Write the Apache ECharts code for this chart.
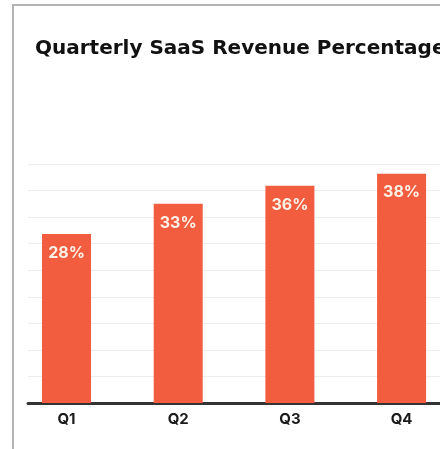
<!DOCTYPE html>
<html lang="en">
<head>
  <meta charset="UTF-8">
  <script src="https://cdn.jsdelivr.net/npm/echarts@6/dist/echarts.min.js"></script>
  <style>
    body { margin: 0; background: #fff; }
    #wrap { position: relative; width: 440px; height: 449px; overflow: hidden; }
    #frame {
      position: absolute; left: 12px; top: 4px;
      width: 600px; height: 600px;
      border-left: 2px solid #b4b4b4; border-top: 2px solid #b4b4b4;
    }
    #container { position: absolute; left: 0; top: 0; width: 440px; height: 449px; }
  </style>
</head>
<body>
  <div id="wrap">
    <div id="frame"></div>
    <div id="container"></div>
  </div>
  <script>
    var quarters = ['Q1', 'Q2', 'Q3', 'Q4'];
    var revenuePct = [28, 33, 36, 38];

    var chart = echarts.init(document.getElementById('container'));

    // bars sit on positions 1..4 of a value axis so the plot can start where the reference does
    var barData = revenuePct.map(function (v, i) { return [i + 1, v]; });

    var option = {
      backgroundColor: 'transparent',
      animation: false,
      title: {
        text: 'Quarterly SaaS Revenue Percentage',
        left: 30,
        top: 34,
        textStyle: {
          fontFamily: 'DejaVu Sans',
          fontSize: 20,
          fontWeight: 'bold',
          color: '#111'
        }
      },
      grid: { left: 28, right: 0, top: 164, bottom: 46 },
      xAxis: {
        type: 'value',
        min: 0.655,
        max: 4.344,
        splitLine: { show: false },
        axisTick: { show: false },
        axisLine: { show: true, lineStyle: { color: '#333', width: 3 } },
        axisLabel: {
          customValues: [1, 2, 3, 4],
          formatter: function (v) { return quarters[Math.round(v) - 1] || ''; },
          margin: 9,
          fontFamily: 'Inter',
          fontSize: 15,
          fontWeight: 'bold',
          color: '#1a1a1a'
        }
      },
      yAxis: {
        type: 'value',
        min: 0,
        max: 39.6,
        interval: 4.4,
        axisLabel: { show: false },
        axisLine: { show: false },
        axisTick: { show: false },
        splitLine: { lineStyle: { color: '#ececec', width: 1 } }
      },
      series: [{
        type: 'bar',
        data: barData,
        barWidth: 49,
        itemStyle: { color: '#f25c3f' },
        label: {
          show: true,
          position: 'insideTop',
          distance: 11,
          formatter: function (p) { return p.value[1] + '%'; },
          fontFamily: 'Inter',
          fontSize: 16,
          fontWeight: 'bold',
          color: '#fdf1e6'
        }
      }]
    };

    chart.setOption(option);
  </script>
</body>
</html>
